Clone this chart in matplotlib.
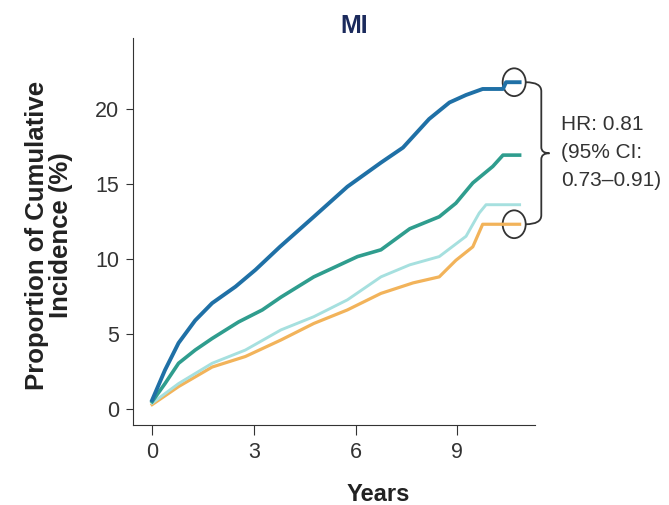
import numpy as np
import matplotlib.pyplot as plt
from matplotlib.patches import Ellipse, PathPatch
from matplotlib.path import Path

plt.rcParams['font.family'] = ['Liberation Sans', 'DejaVu Sans']

# curves (years, cumulative incidence %)
blue_t = [0, 0.38, 0.78, 1.27, 1.77, 2.46, 3.05, 3.77, 4.77, 5.76, 6.75, 7.4, 8.17, 8.77, 9.26, 9.75, 10.35, 10.44, 10.84]
blue_y = [0.6, 2.6, 4.4, 5.9, 7.05, 8.15, 9.27, 10.8, 12.8, 14.8, 16.4, 17.4, 19.3, 20.4, 20.9, 21.3, 21.3, 21.75, 21.75]
teal_t = [0, 0.38, 0.78, 1.27, 1.77, 2.55, 3.25, 3.8, 4.77, 6.06, 6.75, 7.6, 8.47, 8.96, 9.46, 10.05, 10.35, 10.84]
teal_y = [0.5, 1.7, 3.05, 3.93, 4.7, 5.8, 6.6, 7.45, 8.8, 10.15, 10.6, 12.0, 12.8, 13.7, 15.05, 16.15, 16.9, 16.9]
cyan_t = [0, 0.78, 1.77, 2.75, 3.8, 4.77, 5.76, 6.75, 7.6, 8.47, 9.26, 9.65, 9.85, 10.84]
cyan_y = [0.4, 1.7, 3.05, 3.93, 5.27, 6.15, 7.27, 8.8, 9.6, 10.15, 11.5, 13.05, 13.6, 13.6]
orange_t = [0, 0.78, 1.77, 2.75, 3.8, 4.77, 5.76, 6.75, 7.7, 8.47, 8.96, 9.46, 9.75, 10.84]
orange_y = [0.3, 1.5, 2.8, 3.5, 4.6, 5.7, 6.6, 7.7, 8.4, 8.8, 9.9, 10.8, 12.3, 12.3]

hr_text = 'HR: 0.81\n(95% CI:\n0.73\u20130.91)'

fig = plt.figure(figsize=(6.69, 5.05), dpi=100)
ax = fig.add_axes([0.199, 0.158, 0.601, 0.767])

ax.plot(orange_t, orange_y, color='#f2b35a', lw=2.3)
ax.plot(cyan_t, cyan_y, color='#a6e0df', lw=2.1)
ax.plot(teal_t, teal_y, color='#2f9d8e', lw=2.6)
ax.plot(blue_t, blue_y, color='#1f70a6', lw=2.8)

ax.set_xlim(-0.56, 11.3)
ax.set_ylim(-1.07, 24.7)
ax.set_xticks([0, 3, 6, 9])
ax.set_yticks([0, 5, 10, 15, 20])
ax.tick_params(labelsize=15.5, color='#333333', labelcolor='#333333')
ax.tick_params(axis='x', length=7, pad=5)
ax.tick_params(axis='y', length=5, pad=5)
for s in ['top', 'right']:
    ax.spines[s].set_visible(False)
for s in ['left', 'bottom']:
    ax.spines[s].set_color('#333333')

ax.set_xlabel('Years', fontsize=17, fontweight='bold', color='#222222')
ax.xaxis.set_label_coords(0.61, -0.15)
ax.set_ylabel('Proportion of Cumulative\nIncidence (%)', fontsize=18.5, fontweight='bold',
              color='#222222', linespacing=1.0)
ax.yaxis.set_label_coords(-0.15, 0.49)
fig.text(0.529, 0.949, 'MI', ha='center', va='center', fontsize=18,
         fontweight='bold', color='#1b2a5c')

# circles around end points
xe = blue_t[-1] - 0.16
for yv in [blue_y[-1], orange_y[-1]]:
    ax.add_patch(Ellipse((xe, yv), 0.68, 1.85, fill=False, ec='#333333', lw=1.3, clip_on=False))

# brace
y1, y2 = blue_y[-1], orange_y[-1]
ym = (y1 + y2) / 2
x0, x1, x2 = xe + 0.34, xe + 0.8, xe + 1.04
verts = [(x0, y1), (x1, y1), (x1, y1 - 0.6), (x1, ym + 0.4), (x1, ym), (x2, ym),
         (x1, ym), (x1, ym - 0.4), (x1, y2 + 0.6), (x1, y2), (x0, y2)]
codes = [Path.MOVETO, Path.CURVE3, Path.CURVE3, Path.LINETO, Path.CURVE3, Path.CURVE3,
         Path.CURVE3, Path.CURVE3, Path.LINETO, Path.CURVE3, Path.CURVE3]
ax.add_patch(PathPatch(Path(verts, codes), fill=False, ec='#333333', lw=1.3, clip_on=False))

ax.text(12.07, ym + 0.05, hr_text, ha='left', va='center', fontsize=15,
        color='#333333', linespacing=1.6, clip_on=False)

fig.savefig('out.png', dpi=100)
